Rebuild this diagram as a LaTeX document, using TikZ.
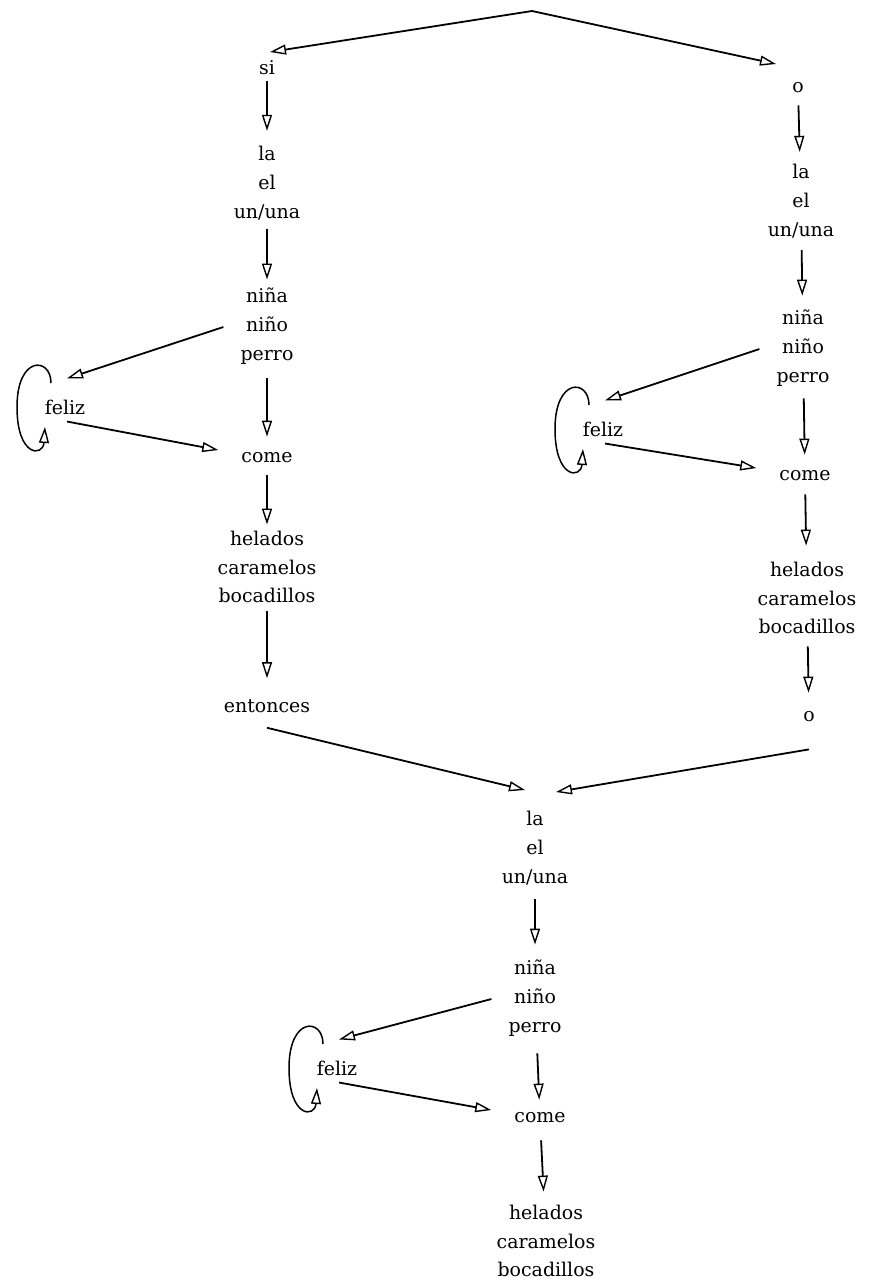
\documentclass[tikz,border=0pt]{standalone}
\usepackage{fontspec}
\setmainfont{DejaVu Serif}
\usetikzlibrary{arrows.meta,calc}
\begin{document}
\begin{tikzpicture}[x=1bp,y=-1bp,
  word/.style={inner sep=1bp, align=center, font=\fontsize{19}{29}\selectfont},
  tip/.style={-{Triangle[open, length=16bp, width=10bp, line width=1.4bp]}},
  flow/.style={line width=1.8bp, tip},
  down/.style={flow, shorten <=10bp, shorten >=13bp},
  selfloop/.style={line width=1.5bp, tip}]
\useasboundingbox (0,0) rectangle (880,1287);

% opening split
\coordinate (top) at (532,11);
\node[word] (si) at (267,68) {si};
\node[word] (o1) at (798,88) {o};
\coordinate (siTip) at (270,52);
\coordinate (oTip) at (776,64);
\draw[flow] (top) -- (siTip);
\draw[flow] (top) -- (oTip);

% left branch
\node[word] (detL) at (267,183) {la\\el\\un/una};
\node[word] (nounL) at (267,326) {niña\\niño\\perro};
\node[word] (comeL) at (267,458) {come};
\node[word] (objL) at (267,567) {helados\\caramelos\\bocadillos};
\node[word] (entonces) at (267,706) {entonces};
\node[word] (felizL) at (65,407) {feliz};
\draw[down, shorten <=5bp, shorten >=14bp] (si) -- (detL);
\draw[down, shorten <=8bp, shorten >=7bp] (detL) -- (nounL);
\draw[down, shorten <=13bp, shorten >=15bp] (nounL) -- (comeL);
\draw[down, shorten <=11bp, shorten >=5bp] (comeL) -- (objL);
\draw[down, shorten <=7bp, shorten >=20bp] (objL) -- (entonces);
\draw[flow] ($(nounL.west)+(-16,1)$) -- ($(felizL.north)+(2,-20)$);
\draw[flow] ($(felizL.south)+(2,6)$) -- ($(comeL.west)+(-22,-8)$);
\draw[selfloop] ($(felizL)+(-14,-24)$) .. controls +(0,-26) and +(0,-52) .. ($(felizL)+(-48,0)$)
  .. controls +(0,50) and +(-2,30) .. ($(felizL)+(-20,20)$);

% right branch
\node[word] (detR) at (801,201) {la\\el\\un/una};
\node[word] (nounR) at (803,348) {niña\\niño\\perro};
\node[word] (comeR) at (805,476) {come};
\node[word] (objR) at (807,598) {helados\\caramelos\\bocadillos};
\node[word] (o2) at (809,717) {o};
\node[word] (felizR) at (603,429) {feliz};
\draw[down, shorten <=11bp, shorten >=11bp] (o1) -- (detR);
\draw[down, shorten <=11bp, shorten >=13bp] (detR) -- (nounR);
\draw[down, shorten <=11bp, shorten >=15bp] (nounR) -- (comeR);
\draw[down, shorten <=12bp, shorten >=15bp] (comeR) -- (objR);
\draw[down, shorten <=11bp, shorten >=18bp] (objR) -- (o2);
\draw[flow] ($(nounR.west)+(-16,1)$) -- ($(felizR.north)+(2,-20)$);
\draw[flow] ($(felizR.south)+(2,6)$) -- ($(comeR.west)+(-22,-8)$);
\draw[selfloop] ($(felizR)+(-14,-24)$) .. controls +(0,-26) and +(0,-52) .. ($(felizR)+(-48,0)$)
  .. controls +(0,50) and +(-2,30) .. ($(felizR)+(-20,20)$);

% joining of both branches
\node[word] (detB) at (535,848) {la\\el\\un/una};
\coordinate (joinL) at (525,790);
\coordinate (joinR) at (556,792);
\draw[flow] ($(entonces.south)+(0,14)$) -- (joinL);
\draw[flow] ($(o2.south)+(0,26)$) -- (joinR);

% last branch
\node[word] (nounB) at (535,998) {niña\\niño\\perro};
\node[word] (comeB) at (540,1118) {come};
\node[word] (objB) at (546,1241) {helados\\caramelos\\bocadillos};
\node[word] (felizB) at (337,1068) {feliz};
\draw[down, shorten <=13bp, shorten >=14bp] (detB) -- (nounB);
\draw[down, shorten <=16bp, shorten >=12bp] (nounB) -- (comeB);
\draw[down, shorten <=16bp, shorten >=12bp] (comeB) -- (objB);
\draw[flow] ($(nounB.west)+(-16,1)$) -- ($(felizB.north)+(2,-20)$);
\draw[flow] ($(felizB.south)+(2,6)$) -- ($(comeB.west)+(-22,-8)$);
\draw[selfloop] ($(felizB)+(-14,-24)$) .. controls +(0,-26) and +(0,-52) .. ($(felizB)+(-48,0)$)
  .. controls +(0,50) and +(-2,30) .. ($(felizB)+(-20,20)$);
\end{tikzpicture}
\end{document}
